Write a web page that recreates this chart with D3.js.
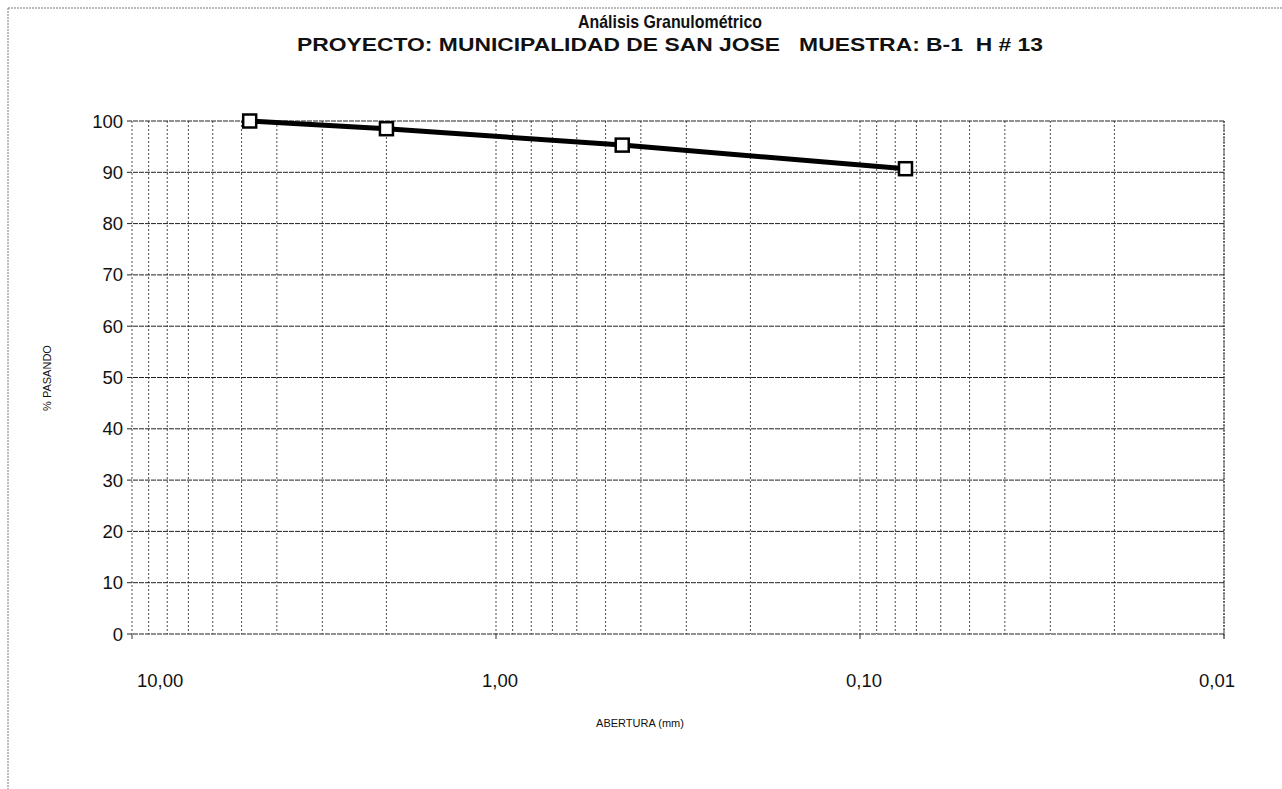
<!DOCTYPE html>
<html>
<head>
<meta charset="utf-8">
<script src="https://cdn.jsdelivr.net/npm/d3@7"></script>
<style>
  html, body { margin: 0; padding: 0; background: #fff; }
  svg { display: block; }
  text { font-family: "Liberation Sans", Arial, sans-serif; fill: #111; }
</style>
</head>
<body>
<svg id="chart" width="1282" height="789"></svg>
<script>
// ---- data ----
const sieveSizes = [4.75, 2.00, 0.45, 0.075];     // abertura (mm)
const percentPassing = [100, 98.5, 95.3, 90.7];    // % pasando
const xTickValues = [10, 1, 0.1, 0.01];
const xTickLabels = ["10,00", "1,00", "0,10", "0,01"];
const yTickValues = [0, 10, 20, 30, 40, 50, 60, 70, 80, 90, 100];
const titleLine1 = "Análisis Granulométrico";
const titleLine2 = "PROYECTO: MUNICIPALIDAD DE SAN JOSE\u00a0\u00a0 MUESTRA: B-1\u00a0 H # 13";
const xAxisTitle = "ABERTURA (mm)";
const yAxisTitle = "% PASANDO";

const svg = d3.select("#chart");
const W = 1282, H = 789;
const plot = { left: 132, right: 1224, top: 121, bottom: 634 };

const x = d3.scaleLog().domain([10, 0.01]).range([plot.left, plot.right]);
const y = d3.scaleLinear().domain([0, 100]).range([plot.bottom, plot.top]);

// outer frame (scanned page edges)
svg.append("line").attr("x1", 8).attr("x2", W).attr("y1", 8).attr("y2", 8)
  .attr("stroke", "#777").attr("stroke-width", 1).attr("stroke-dasharray", "2,1");
svg.append("line").attr("x1", 8).attr("x2", 8).attr("y1", 8).attr("y2", H)
  .attr("stroke", "#777").attr("stroke-width", 1).attr("stroke-dasharray", "2,1");

// minor log gridlines (1..9 per decade)
const minorVals = [];
[10, 1, 0.1].forEach(dec => {
  for (let k = 1; k <= 9; k++) minorVals.push(dec * k / 10);
});
minorVals.push(10);
const g = svg.append("g");
g.selectAll("line.vgrid").data(minorVals).join("line")
  .attr("class", "vgrid")
  .attr("x1", d => x(d)).attr("x2", d => x(d))
  .attr("y1", plot.top).attr("y2", plot.bottom)
  .attr("stroke", "#222").attr("stroke-width", 1)
  .attr("stroke-dasharray", "2,2").attr("opacity", 0.8);

// horizontal gridlines
g.selectAll("line.hgrid").data(yTickValues).join("line")
  .attr("class", "hgrid")
  .attr("x1", plot.left - 5).attr("x2", plot.right)
  .attr("y1", d => y(d)).attr("y2", d => y(d))
  .attr("stroke", "#222").attr("stroke-width", 1)
  .attr("stroke-dasharray", "5,1");

// right border
g.append("line").attr("x1", plot.right).attr("x2", plot.right)
  .attr("y1", plot.top).attr("y2", plot.bottom + 4)
  .attr("stroke", "#333").attr("stroke-dasharray", "2,1");

// x ticks below axis
g.selectAll("line.xtick").data(xTickValues).join("line")
  .attr("x1", d => x(d)).attr("x2", d => x(d))
  .attr("y1", plot.bottom).attr("y2", plot.bottom + 5)
  .attr("stroke", "#333");

// y axis labels
svg.append("g").selectAll("text").data(yTickValues).join("text")
  .attr("x", plot.left - 9).attr("y", d => y(d))
  .attr("text-anchor", "end").attr("dominant-baseline", "central")
  .attr("font-size", 18.5).text(d => d);

// x axis labels (Excel keeps outer labels inside the plot width)
const nX = xTickValues.length;
svg.append("g").selectAll("text").data(xTickValues).join("text")
  .attr("x", (d, i) => i === 0 ? x(d) + 5 : (i === nX - 1 ? x(d) + 11 : x(d) + 4))
  .attr("y", plot.bottom + 46)
  .attr("text-anchor", (d, i) => i === 0 ? "start" : (i === nX - 1 ? "end" : "middle"))
  .attr("dominant-baseline", "central")
  .attr("font-size", 18.5).text((d, i) => xTickLabels[i]);

// axis titles
svg.append("text").attr("x", 640).attr("y", 723)
  .attr("text-anchor", "middle").attr("dominant-baseline", "central")
  .attr("font-size", 11).text(xAxisTitle);
svg.append("text").attr("transform", "translate(47,378) rotate(-90)")
  .attr("text-anchor", "middle").attr("dominant-baseline", "central")
  .attr("font-size", 11).text(yAxisTitle);

// titles
const cx = (plot.left + plot.right) / 2 - 8;
svg.append("text").attr("x", cx).attr("y", 21)
  .attr("text-anchor", "middle").attr("dominant-baseline", "central")
  .attr("font-size", 18.5).attr("font-weight", "bold")
  .attr("textLength", 184).attr("lengthAdjust", "spacingAndGlyphs")
  .text(titleLine1);
svg.append("text").attr("x", cx).attr("y", 44)
  .attr("text-anchor", "middle").attr("dominant-baseline", "central")
  .attr("font-size", 18.5).attr("font-weight", "bold")
  .attr("textLength", 746).attr("lengthAdjust", "spacingAndGlyphs")
  .text(titleLine2);

// series
const pts = sieveSizes.map((s, i) => [s, percentPassing[i]]);
const line = d3.line().x(d => x(d[0])).y(d => y(d[1]));
svg.append("path").datum(pts).attr("d", line)
  .attr("fill", "none").attr("stroke", "#000").attr("stroke-width", 5);
const ms = 13;
svg.append("g").selectAll("rect").data(pts).join("rect")
  .attr("x", d => x(d[0]) - ms / 2).attr("y", d => y(d[1]) - ms / 2)
  .attr("width", ms).attr("height", ms)
  .attr("fill", "#fff").attr("stroke", "#000").attr("stroke-width", 2.5);
</script>
</body>
</html>
